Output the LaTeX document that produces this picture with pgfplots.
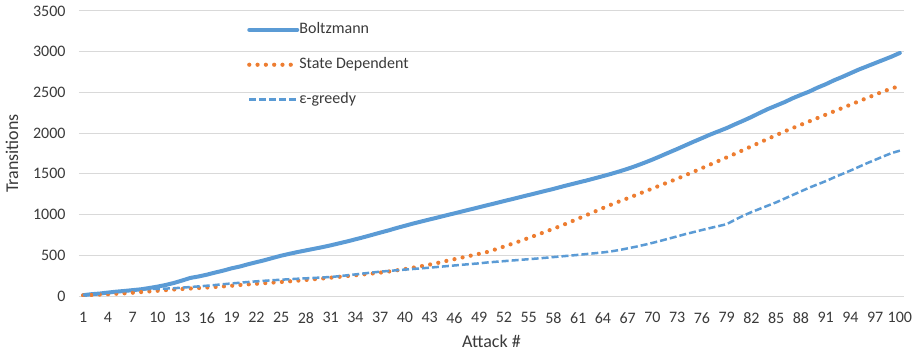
\documentclass[border=0pt]{standalone}
\usepackage{fontspec}
\setmainfont{Carlito}
\usepackage{pgfplots}
\usepackage{pgfplotstable}
\pgfplotsset{compat=1.18}
\definecolor{cblue}{HTML}{5B9BD5}
\definecolor{corange}{HTML}{ED7D31}
\definecolor{gridc}{HTML}{D9D9D9}
\definecolor{txt}{HTML}{3A3A3A}

\pgfplotstableread{
n B S E
1 10 8 10
2 22 12 20
3 30 17 28
4 42 22 38
5 53 28 48
6 62 33 58
7 72 40 70
8 82 48 80
9 98 56 85
10 115 64 88
11 135 72 91
12 160 80 95
13 190 86 103
14 222 92 110
15 240 98 118
16 262 104 126
17 288 111 135
18 312 118 145
19 340 126 154
20 362 135 163
21 390 143 172
22 415 150 180
23 440 158 187
24 468 165 194
25 495 172 200
26 518 180 206
27 540 188 212
28 560 197 217
29 580 206 222
30 600 215 228
31 622 225 233
32 646 235 243
33 670 245 254
34 696 255 265
35 722 266 277
36 750 276 288
37 778 287 299
38 805 300 307
39 835 315 316
40 862 330 324
41 890 348 332
42 915 366 340
43 940 386 348
44 965 407 357
45 990 430 366
46 1015 452 375
47 1040 474 384
48 1065 496 393
49 1090 518 401
50 1115 541 412
51 1140 573 420
52 1165 607 428
53 1190 641 436
54 1215 676 444
55 1240 713 452
56 1265 750 460
57 1290 788 469
58 1315 826 478
59 1342 865 487
60 1368 907 496
61 1393 950 505
62 1418 993 515
63 1445 1036 525
64 1472 1080 535
65 1500 1122 548
66 1530 1162 565
67 1562 1200 585
68 1597 1240 605
69 1635 1280 628
70 1675 1320 652
71 1718 1360 678
72 1762 1400 705
73 1805 1440 732
74 1850 1483 760
75 1895 1526 785
76 1938 1570 810
77 1982 1614 835
78 2022 1658 858
79 2062 1702 882
80 2108 1746 935
81 2152 1792 985
82 2198 1838 1030
83 2248 1884 1070
84 2296 1930 1110
85 2338 1975 1150
86 2380 2020 1195
87 2428 2062 1240
88 2470 2103 1285
89 2510 2144 1330
90 2558 2185 1370
91 2600 2226 1410
92 2648 2267 1455
93 2690 2308 1498
94 2735 2349 1540
95 2780 2390 1585
96 2820 2431 1630
97 2860 2472 1672
98 2900 2513 1715
99 2940 2547 1755
100 2985 2581 1785
}\data

\begin{document}
\begin{tikzpicture}[x=1pt,y=1pt]
\useasboundingbox (-79,-60) rectangle (841,296);
\begin{axis}[
  scale only axis, width=825pt, height=285pt,
  at={(0,0)}, anchor=south west,
  xmin=0.5, xmax=100.5, ymin=0, ymax=3500,
  xtick={1,4,...,100}, ytick={0,500,...,3500},
  ymajorgrids, grid style={gridc, line width=1pt},
  axis line style={draw=none}, major tick length=0pt,
  tick label style={font=\fontsize{16}{19}\selectfont, text=txt},
  /pgf/number format/assume math mode=true,
  /pgf/number format/1000 sep={},
  scaled y ticks=false,
  xticklabel style={yshift=-13pt},
  yticklabel style={xshift=-10pt},
  xlabel={Attack \#}, ylabel={Transitions},
  label style={font=\fontsize{18}{21}\selectfont, text=txt},
  xlabel style={yshift=-5pt},
  ylabel style={yshift=8pt},
  legend cell align=left,
  legend style={draw=none, fill=none, at={(0.2036,0.963)}, anchor=north west,
    font=\fontsize{16}{19}\selectfont, text=txt, row sep=19pt, inner sep=0pt,
    nodes={inner sep=0pt, text height=12pt, text depth=4pt}},
  legend image code/.code={\draw[#1] (0pt,0pt) -- (48pt,0pt);},
]
\addplot[cblue, line width=4pt, line join=round, line cap=round] table[x=n,y=B]{\data};
\addlegendentry{Boltzmann}
\addplot[corange, line width=4.2pt, line cap=round, dash pattern=on 0pt off 8.3pt] table[x=n,y=S]{\data};
\addlegendentry{State Dependent}
\addplot[cblue, line width=2.5pt, dash pattern=on 7pt off 3pt] table[x=n,y=E]{\data};
\addlegendentry{ε-greedy}
\end{axis}
\end{tikzpicture}
\end{document}
